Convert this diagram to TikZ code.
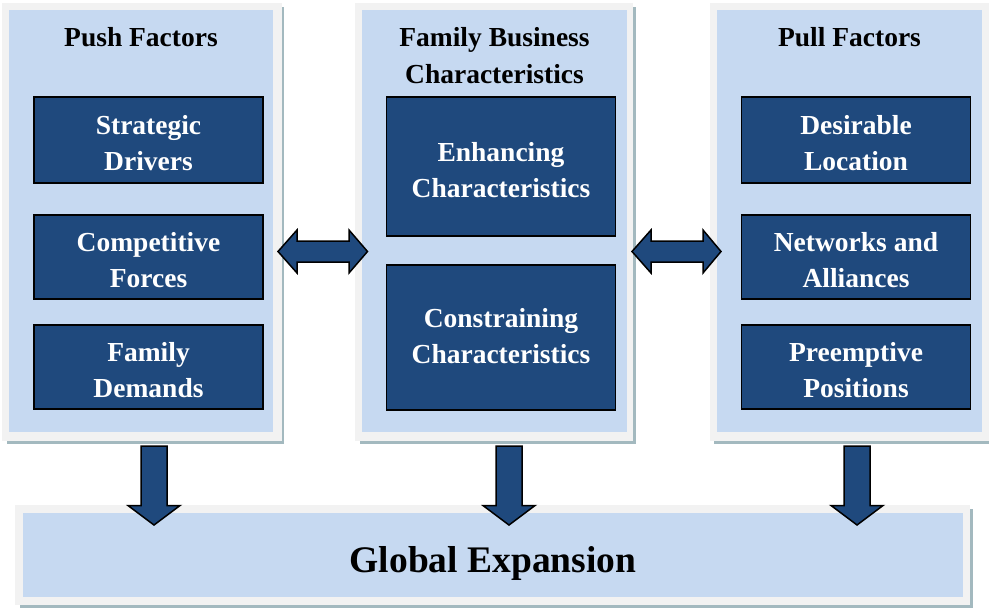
\documentclass[tikz,border=0pt]{standalone}
\usepackage{fontspec}
\setmainfont{Liberation Serif}
\usetikzlibrary{calc}
\definecolor{paneblue}{HTML}{C6D9F1}
\definecolor{panerim}{HTML}{F2F2F2}
\definecolor{paneshade}{HTML}{A3B9BF}
\definecolor{boxblue}{HTML}{1F497D}
\tikzset{
  rim/.style={fill=panerim, draw=none},
  pane/.style={fill=paneblue, draw=none},
  shade/.style={fill=paneshade, draw=none},
  darkbox/.style={draw=black, line width=1.5pt, fill=boxblue,
    inner sep=0pt, minimum width=229pt},
  boxtext/.style={text=white, font=\bfseries\fontsize{27.5}{36}\selectfont,
    align=center, inner sep=0pt, yshift=-3.5pt},
  panetitle/.style={font=\bfseries\fontsize{27.5}{37}\selectfont, align=center, inner sep=0pt},
  blockarrow/.style={draw=black, line width=1.5pt, fill=boxblue, line join=miter}
}
\begin{document}
\begin{tikzpicture}[x=1pt, y=-1pt]
\useasboundingbox (0,0) rectangle (989,610);

% three upper panels: shadow, rim, light fill
\fill[shade] (7,7) rectangle (284,444);
\fill[rim] (2,3) rectangle (281.5,440.5);
\fill[pane] (9,10) rectangle (273,432);

\fill[shade] (360,7) rectangle (635.5,444);
\fill[rim] (355,3) rectangle (633,440.5);
\fill[pane] (362,10) rectangle (627,432);

\fill[shade] (714,7) rectangle (995,444);
\fill[rim] (710,3) rectangle (992,440.5);
\fill[pane] (717,10) rectangle (982,432);

% bottom panel
\fill[shade] (20,509) rectangle (972.5,608);
\fill[rim] (15,505) rectangle (970,604.5);
\fill[pane] (23,513) rectangle (963,597);

% panel titles
\node[panetitle] (pushT) at (141,37) {Push Factors};
\node[panetitle] (famT) at (494.5,55.5) {Family Business\\Characteristics};
\node[panetitle] (pullT) at (849.5,37) {Pull Factors};

% push factors
\node[darkbox, minimum height=86pt, label={[boxtext]center:Strategic\\Drivers}] (strat) at (148.5,140) {};
\node[darkbox, minimum height=84pt, label={[boxtext]center:Competitive\\Forces}] (comp) at (148.5,257) {};
\node[darkbox, minimum height=84pt, label={[boxtext]center:Family\\Demands}] (fam) at (148.5,367) {};

% family business characteristics
\node[darkbox, minimum height=139pt, label={[boxtext, yshift=-0.5pt]center:Enhancing\\Characteristics}] (enh) at (501,166.5) {};
\node[darkbox, minimum height=145pt, label={[boxtext, yshift=4.5pt]center:Constraining\\Characteristics}] (con) at (501,337.5) {};

% pull factors
\node[darkbox, minimum height=86pt, label={[boxtext]center:Desirable\\Location}] (loc) at (856,140) {};
\node[darkbox, minimum height=84pt, label={[boxtext]center:Networks and\\Alliances}] (net) at (856,257) {};
\node[darkbox, minimum height=84pt, label={[boxtext]center:Preemptive\\Positions}] (pre) at (856,367) {};

% global expansion
\node[font=\bfseries\fontsize{37.5}{45}\selectfont, inner sep=0pt] (glob) at (493,563) {Global Expansion};

% two-headed arrows between the panels
\draw[blockarrow] (278,251.5) -- (297,230) -- (297,241) -- (349,241) -- (349,230)
  -- (367.5,251.5) -- (349,273) -- (349,262) -- (297,262) -- (297,273) -- cycle;
\draw[blockarrow] (632,251.5) -- (651,230) -- (651,241) -- (703,241) -- (703,230)
  -- (721,251.5) -- (703,273) -- (703,262) -- (651,262) -- (651,273) -- cycle;

% downward arrows into the bottom panel
\foreach \cx in {154, 509, 857}{
  \draw[blockarrow] (\cx-13,446) -- (\cx+13,446) -- (\cx+13,505.5) -- (\cx+26,505.5)
    -- (\cx,525) -- (\cx-26,505.5) -- (\cx-13,505.5) -- cycle;
}
\end{tikzpicture}
\end{document}
